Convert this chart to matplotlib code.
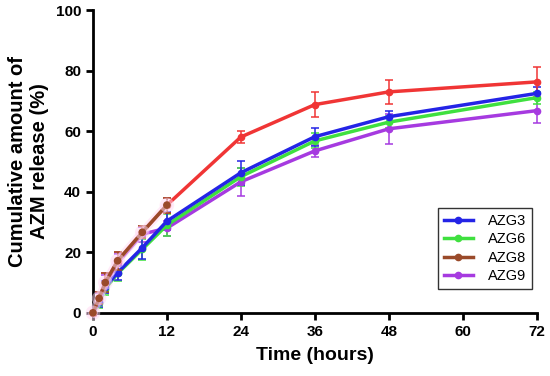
import matplotlib.pyplot as plt
import matplotlib.patheffects as pe
from matplotlib.lines import Line2D

plt.rcParams['font.family'] = ['Liberation Sans', 'DejaVu Sans']

time_h = [0, 1, 2, 4, 8, 12, 24, 36, 48, 72]

azg3 = [0, 3.5, 8.5, 13.3, 21.5, 30.3, 46.3, 58.2, 64.8, 72.5]
azg3_err = [0, 1.5, 2, 2.5, 3.8, 3, 4, 3, 2, 2]
azg6 = [0, 3.2, 8, 13, 21, 29, 45, 56.8, 63, 71.1]
azg6_err = [0, 1.5, 2, 2.5, 3.5, 3.5, 3, 2.5, 2, 2]
azg8 = [0, 4.8, 10, 17.2, 26.6, 35.6, 58.1, 68.8, 73, 76.3]
azg8_err = [0, 2, 3, 3, 2, 2.5, 2, 4, 4, 5]
azg9 = [0, 4.5, 9.5, 16.5, 26, 28, 43.3, 53.5, 60.8, 66.8]
azg9_err = [0, 2, 3, 3, 2.5, 2.5, 4.7, 2, 5, 4]

labels = ['AZG3', 'AZG6', 'AZG8', 'AZG9']
colors = ['#2424e6', '#3fe03f', '#f03535', '#a63ae0']
brown = '#9a4a2a'

fig = plt.figure(figsize=(5.5, 3.76), dpi=100)
ax = fig.add_axes([0.169, 0.168, 0.807, 0.805])

halo = [pe.Stroke(linewidth=6, foreground='#ffd6f2', alpha=0.5), pe.Normal()]

series = [(azg9, azg9_err), (azg6, azg6_err), (azg3, azg3_err), (azg8, azg8_err)]
order = [3, 1, 0, 2]
for idx, (vals, errs) in zip(order, series):
    c = colors[idx]
    ax.errorbar(time_h, vals, yerr=errs, color=c, lw=2.5, marker='o', ms=4.5,
                capsize=3, elinewidth=1.1, capthick=1.1, clip_on=False, zorder=3)

# early part of AZG8 appears brown in the original
early = ax.errorbar(time_h[:6], azg8[:6], yerr=azg8_err[:6], color=brown, lw=2.5, marker='o',
                    ms=4.5, capsize=3, elinewidth=1.1, capthick=1.1, clip_on=False, zorder=4)
early[0].set_path_effects(halo)

ax.set_xlim(0, 72)
ax.set_ylim(0, 100)
ax.set_xticks([0, 12, 24, 36, 48, 60, 72])
ax.set_yticks([0, 20, 40, 60, 80, 100])
ax.spines['top'].set_visible(False)
ax.spines['right'].set_visible(False)
for s in ['left', 'bottom']:
    ax.spines[s].set_linewidth(2)
ax.tick_params(width=2, length=5, labelsize=11)
for t in ax.get_xticklabels() + ax.get_yticklabels():
    t.set_fontweight('bold')

ax.set_xlabel('Time (hours)', fontsize=14, fontweight='bold', labelpad=6)
ax.set_ylabel('Cumulative amount of\nAZM release (%)', fontsize=14.5, fontweight='bold', labelpad=5)

leg_colors = [colors[0], colors[1], brown, colors[3]]
handles = [Line2D([], [], color=c, lw=2.5, marker='o', ms=4.5) for c in leg_colors]
leg = ax.legend(handles, labels, loc='lower right',
                bbox_to_anchor=(1.005, 0.055), fontsize=10.5, frameon=True, fancybox=False,
                handlelength=2.0, borderpad=0.4, labelspacing=0.3, handletextpad=1.0)
leg.get_frame().set_edgecolor('black')
leg.get_frame().set_linewidth(1)

fig.savefig('out.png', dpi=100)
